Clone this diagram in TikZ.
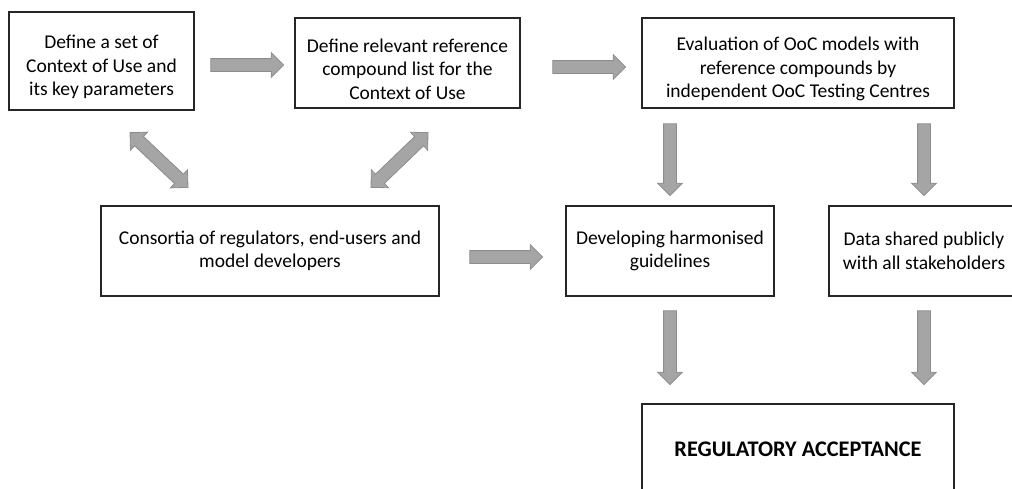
\documentclass[tikz,border=0pt]{standalone}
\usepackage{fontspec}
\setmainfont{Carlito}
\usetikzlibrary{calc,shapes.arrows}
\definecolor{arrowfill}{HTML}{A5A5A5}
\definecolor{arrowedge}{HTML}{8C8C8C}
\newcommand{\boxfont}{\fontsize{19.5}{23.5}\selectfont}
\newcommand{\topgap}{\rule{0pt}{26pt}}
\tikzset{
  box/.style={draw=black!85, line width=1.2pt, align=center, inner sep=0pt, font=\boxfont},
  onearrow/.style={single arrow, fill=arrowfill, draw=arrowedge, line width=0.8pt, inner xsep=0pt, inner ysep=6pt,
    minimum width=24pt, single arrow head extend=6pt, single arrow head indent=0pt, single arrow tip angle=90},
  twoarrow/.style={double arrow, fill=arrowfill, draw=arrowedge, line width=0.8pt, inner xsep=0pt, inner ysep=6pt,
    minimum width=24pt, double arrow head extend=6pt, double arrow head indent=0pt, double arrow tip angle=90},
  fat/.style={to path={let \p1=(\tikztostart), \p2=(\tikztotarget),
    \n1={atan2(\y2-\y1,\x2-\x1)}, \n2={veclen(\x2-\x1,\y2-\y1)} in
    node[#1, rotate=\n1, minimum height=\n2] at ($(\tikztostart)!0.5!(\tikztotarget)$) {}}},
  fat/.default=onearrow
}
\begin{document}
\begin{tikzpicture}[x=1pt,y=-1pt]
  \useasboundingbox (0,0) rectangle (1012,488);

  \node[box, minimum width=185, minimum height=98] (def) at (101.5,61) {\topgap Define a set of\\Context of Use and\\its key parameters};
  \node[box, minimum width=225, minimum height=90] (ref) at (407.5,63) {\topgap Define relevant reference\\compound list for the\\Context of Use};
  \node[box, minimum width=312, minimum height=90] (eval) at (798,63) {\topgap Evaluation of OoC models with\\reference compounds by\\independent OoC Testing Centres};
  \node[box, minimum width=338, minimum height=90] (cons) at (270,251) {Consortia of regulators, end-users and\\model developers};
  \node[box, minimum width=208, minimum height=90] (devel) at (670,251) {Developing harmonised\\guidelines};
  \node[box, minimum width=190, minimum height=90] (data) at (924,251) {Data shared publicly\\with all stakeholders};
  \node[box, minimum width=312, minimum height=90, font=\fontsize{22.3}{26}\selectfont\bfseries] (reg) at (798,449) {REGULATORY ACCEPTANCE};

  \draw ($(def.east)+(13,4)$) to[fat] ($(ref.west)+(-14,2)$);
  \draw ($(ref.east)+(29,4)$) to[fat] ($(eval.west)+(-19,4)$);
  \draw ($(cons.east)+(27,6)$) to[fat] ($(devel.west)+(-26,6)$);
  \draw ($(eval.south -| devel)+(0,12)$) to[fat] ($(devel.north)+(0,-13)$);
  \draw ($(eval.south -| data)+(0,12)$) to[fat] ($(data.north)+(0,-13)$);
  \draw ($(devel.south)+(0,11)$) to[fat] ($(reg.north -| devel)+(0,-22)$);
  \draw ($(data.south)+(0,11)$) to[fat] ($(reg.north -| data)+(0,-22)$);
  \draw ($(def.south)+(28.5,22)$) to[fat=twoarrow] ($(cons.north)+(-82,-18)$);
  \draw ($(ref.south)+(20.5,24)$) to[fat=twoarrow] ($(cons.north)+(101,-18)$);

\end{tikzpicture}
\end{document}
